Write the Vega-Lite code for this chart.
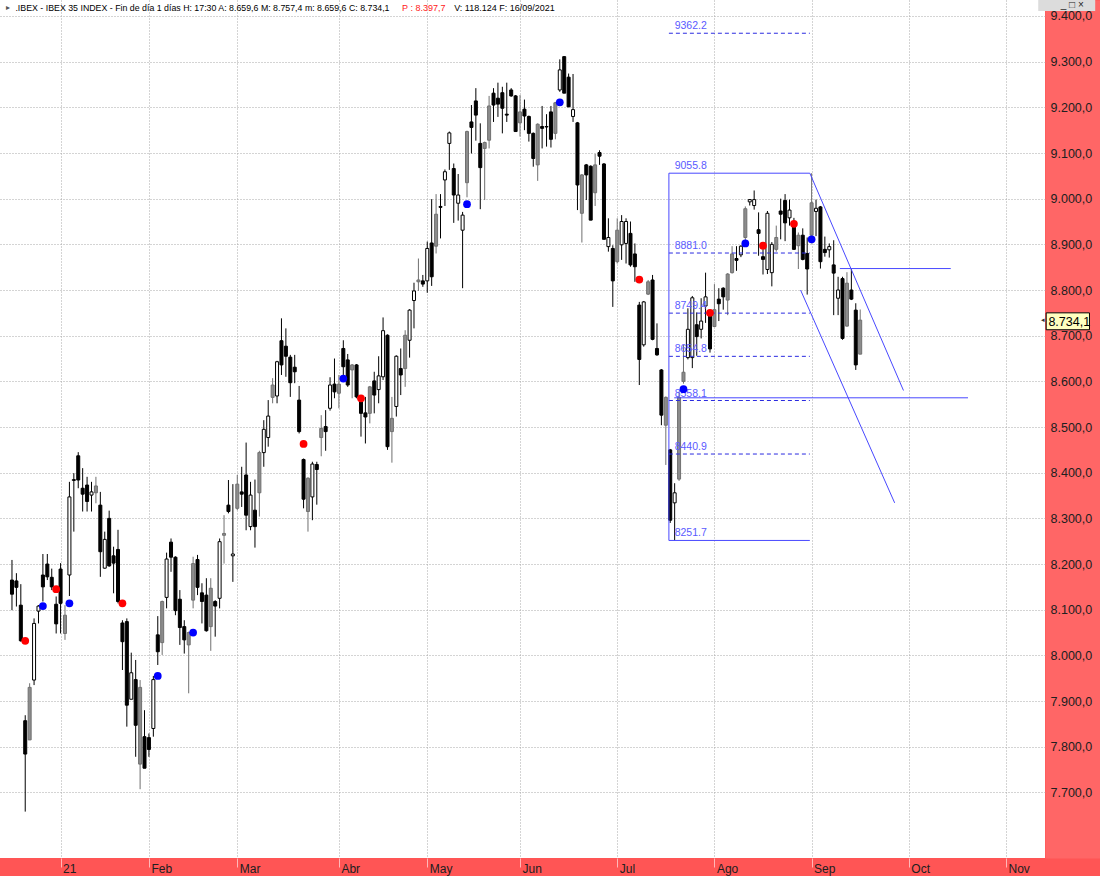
{
"$schema": "https://vega.github.io/schema/vega-lite/v6.json",
"width": 1045,
"height": 858,
"autosize": {"type": "none"},
"padding": {"left": 0, "top": 0, "right": 55, "bottom": 18},
"background": "#ff5555",
"config": {"view": {"stroke": null, "fill": "#ffffff"}, "font": "Liberation Sans"},
"resolve": {"axis": {"y": "independent"}},
"datasets": {
"candles": [
{"i":-11,"o":8165,"h":8209,"l":8099,"c":8134,"k":"b"},
{"i":-10,"o":8163,"h":8180,"l":8107,"c":8149,"k":"b"},
{"i":-9,"o":8110,"h":8156,"l":8030,"c":8032,"k":"b"},
{"i":-8,"o":7857,"h":7869,"l":7658,"c":7784,"k":"b"},
{"i":-7,"o":7815,"h":7939,"l":7815,"c":7930,"k":"g"},
{"i":-6,"o":7946,"h":8081,"l":7935,"c":8070,"k":"w"},
{"i":-5,"o":8097,"h":8110,"l":8070,"c":8108,"k":"w"},
{"i":-4,"o":8176,"h":8222,"l":8118,"c":8150,"k":"b"},
{"i":-3,"o":8200,"h":8222,"l":8165,"c":8172,"k":"b"},
{"i":-2,"o":8171,"h":8190,"l":8143,"c":8150,"k":"b"},
{"i":-1,"o":8112,"h":8129,"l":8048,"c":8069,"k":"b"},
{"i":0,"o":8189,"h":8202,"l":8048,"c":8114,"k":"b"},
{"i":1,"o":8048,"h":8110,"l":8034,"c":8088,"k":"g"},
{"i":2,"o":8176,"h":8380,"l":8130,"c":8347,"k":"w"},
{"i":3,"o":8383,"h":8399,"l":8271,"c":8385,"k":"w"},
{"i":4,"o":8437,"h":8445,"l":8366,"c":8384,"k":"b"},
{"i":5,"o":8366,"h":8410,"l":8315,"c":8353,"k":"b"},
{"i":6,"o":8373,"h":8391,"l":8315,"c":8337,"k":"b"},
{"i":7,"o":8351,"h":8380,"l":8315,"c":8358,"k":"w"},
{"i":8,"o":8356,"h":8391,"l":8333,"c":8371,"k":"g"},
{"i":9,"o":8329,"h":8358,"l":8172,"c":8227,"k":"b"},
{"i":10,"o":8191,"h":8271,"l":8190,"c":8254,"k":"w"},
{"i":11,"o":8300,"h":8317,"l":8194,"c":8196,"k":"b"},
{"i":12,"o":8218,"h":8238,"l":8136,"c":8202,"k":"b"},
{"i":13,"o":8232,"h":8275,"l":8114,"c":8118,"k":"b"},
{"i":14,"o":8071,"h":8077,"l":7968,"c":8030,"k":"b"},
{"i":15,"o":8074,"h":8081,"l":7844,"c":7891,"k":"b"},
{"i":16,"o":7904,"h":8006,"l":7904,"c":7962,"k":"w"},
{"i":17,"o":7947,"h":7990,"l":7778,"c":7847,"k":"b"},
{"i":18,"o":7762,"h":7946,"l":7707,"c":7930,"k":"g"},
{"i":19,"o":7822,"h":7880,"l":7753,"c":7753,"k":"b"},
{"i":20,"o":7820,"h":7829,"l":7778,"c":7794,"k":"b"},
{"i":21,"o":7840,"h":7955,"l":7822,"c":7947,"k":"w"},
{"i":22,"o":8045,"h":8086,"l":7979,"c":8008,"k":"b"},
{"i":23,"o":8028,"h":8120,"l":8001,"c":8118,"k":"g"},
{"i":24,"o":8127,"h":8225,"l":8103,"c":8211,"k":"w"},
{"i":25,"o":8248,"h":8256,"l":8183,"c":8215,"k":"b"},
{"i":26,"o":8215,"h":8217,"l":8088,"c":8098,"k":"b"},
{"i":27,"o":8123,"h":8143,"l":8023,"c":8061,"k":"b"},
{"i":28,"o":8063,"h":8077,"l":8004,"c":8034,"k":"b"},
{"i":29,"o":8023,"h":8052,"l":7917,"c":8050,"k":"g"},
{"i":30,"o":8121,"h":8216,"l":8103,"c":8201,"k":"g"},
{"i":31,"o":8210,"h":8220,"l":8132,"c":8149,"k":"b"},
{"i":32,"o":8137,"h":8158,"l":8070,"c":8118,"k":"b"},
{"i":33,"o":8132,"h":8169,"l":8052,"c":8054,"k":"b"},
{"i":34,"o":8063,"h":8169,"l":8010,"c":8147,"k":"g"},
{"i":35,"o":8118,"h":8121,"l":8041,"c":8108,"k":"b"},
{"i":36,"o":8125,"h":8256,"l":8103,"c":8249,"k":"w"},
{"i":37,"o":8263,"h":8307,"l":8201,"c":8267,"k":"g"},
{"i":38,"o":8329,"h":8384,"l":8311,"c":8315,"k":"b"},
{"i":39,"o":8218,"h":8375,"l":8161,"c":8222,"k":"w"},
{"i":40,"o":8322,"h":8395,"l":8318,"c":8375,"k":"g"},
{"i":41,"o":8358,"h":8413,"l":8325,"c":8353,"k":"b"},
{"i":42,"o":8395,"h":8466,"l":8274,"c":8307,"k":"b"},
{"i":43,"o":8282,"h":8380,"l":8274,"c":8351,"k":"w"},
{"i":44,"o":8318,"h":8385,"l":8236,"c":8282,"k":"b"},
{"i":45,"o":8356,"h":8448,"l":8304,"c":8444,"k":"g"},
{"i":46,"o":8444,"h":8515,"l":8413,"c":8495,"k":"w"},
{"i":47,"o":8477,"h":8559,"l":8457,"c":8524,"k":"w"},
{"i":48,"o":8565,"h":8607,"l":8552,"c":8592,"k":"g"},
{"i":49,"o":8568,"h":8645,"l":8552,"c":8643,"k":"w"},
{"i":50,"o":8689,"h":8738,"l":8614,"c":8636,"k":"b"},
{"i":51,"o":8677,"h":8716,"l":8610,"c":8655,"k":"b"},
{"i":52,"o":8653,"h":8658,"l":8566,"c":8597,"k":"b"},
{"i":53,"o":8631,"h":8658,"l":8596,"c":8621,"k":"b"},
{"i":54,"o":8559,"h":8590,"l":8486,"c":8490,"k":"b"},
{"i":55,"o":8429,"h":8431,"l":8322,"c":8342,"k":"b"},
{"i":56,"o":8315,"h":8390,"l":8271,"c":8388,"k":"g"},
{"i":57,"o":8347,"h":8424,"l":8296,"c":8419,"k":"w"},
{"i":58,"o":8418,"h":8424,"l":8330,"c":8407,"k":"b"},
{"i":59,"o":8477,"h":8526,"l":8436,"c":8497,"k":"g"},
{"i":60,"o":8501,"h":8537,"l":8448,"c":8490,"k":"b"},
{"i":61,"o":8541,"h":8609,"l":8536,"c":8592,"k":"w"},
{"i":62,"o":8594,"h":8650,"l":8563,"c":8577,"k":"b"},
{"i":63,"o":8574,"h":8614,"l":8541,"c":8594,"k":"g"},
{"i":64,"o":8672,"h":8690,"l":8614,"c":8632,"k":"b"},
{"i":65,"o":8647,"h":8660,"l":8588,"c":8592,"k":"b"},
{"i":66,"o":8625,"h":8638,"l":8563,"c":8636,"k":"g"},
{"i":67,"o":8636,"h":8638,"l":8563,"c":8566,"k":"b"},
{"i":68,"o":8555,"h":8563,"l":8479,"c":8530,"k":"b"},
{"i":69,"o":8531,"h":8566,"l":8464,"c":8522,"k":"b"},
{"i":70,"o":8530,"h":8590,"l":8508,"c":8588,"k":"g"},
{"i":71,"o":8601,"h":8621,"l":8530,"c":8570,"k":"b"},
{"i":72,"o":8582,"h":8655,"l":8552,"c":8612,"k":"w"},
{"i":73,"o":8610,"h":8740,"l":8603,"c":8711,"k":"w"},
{"i":74,"o":8701,"h":8703,"l":8450,"c":8457,"k":"b"},
{"i":75,"o":8490,"h":8566,"l":8422,"c":8519,"k":"g"},
{"i":76,"o":8545,"h":8657,"l":8523,"c":8655,"k":"w"},
{"i":77,"o":8628,"h":8672,"l":8570,"c":8614,"k":"b"},
{"i":78,"o":8628,"h":8712,"l":8588,"c":8701,"k":"g"},
{"i":79,"o":8690,"h":8758,"l":8652,"c":8756,"k":"w"},
{"i":80,"o":8777,"h":8816,"l":8716,"c":8798,"k":"w"},
{"i":81,"o":8818,"h":8869,"l":8798,"c":8822,"k":"g"},
{"i":82,"o":8820,"h":8833,"l":8807,"c":8813,"k":"b"},
{"i":83,"o":8820,"h":8906,"l":8794,"c":8891,"k":"w"},
{"i":84,"o":8903,"h":8999,"l":8809,"c":8829,"k":"b"},
{"i":85,"o":8896,"h":9010,"l":8880,"c":8966,"k":"g"},
{"i":86,"o":8983,"h":9010,"l":8913,"c":8981,"k":"b"},
{"i":87,"o":9041,"h":9064,"l":8984,"c":9059,"k":"w"},
{"i":88,"o":9121,"h":9147,"l":9063,"c":9144,"k":"w"},
{"i":89,"o":9066,"h":9077,"l":8947,"c":9008,"k":"b"},
{"i":90,"o":8990,"h":9054,"l":8952,"c":9008,"k":"w"},
{"i":91,"o":8931,"h":8971,"l":8804,"c":8964,"k":"w"},
{"i":92,"o":9035,"h":9149,"l":9003,"c":9147,"k":"g"},
{"i":93,"o":9168,"h":9205,"l":9099,"c":9156,"k":"b"},
{"i":94,"o":9214,"h":9242,"l":9127,"c":9183,"k":"b"},
{"i":95,"o":9121,"h":9165,"l":8977,"c":9068,"k":"b"},
{"i":96,"o":9110,"h":9125,"l":8997,"c":9123,"k":"g"},
{"i":97,"o":9128,"h":9225,"l":9110,"c":9203,"k":"g"},
{"i":98,"o":9231,"h":9242,"l":9168,"c":9205,"k":"b"},
{"i":99,"o":9220,"h":9254,"l":9179,"c":9207,"k":"b"},
{"i":100,"o":9232,"h":9245,"l":9143,"c":9198,"k":"b"},
{"i":101,"o":9185,"h":9254,"l":9168,"c":9183,"k":"b"},
{"i":102,"o":9238,"h":9242,"l":9223,"c":9225,"k":"b"},
{"i":103,"o":9225,"h":9227,"l":9147,"c":9147,"k":"b"},
{"i":104,"o":9166,"h":9227,"l":9136,"c":9190,"k":"g"},
{"i":105,"o":9196,"h":9217,"l":9150,"c":9181,"k":"b"},
{"i":106,"o":9180,"h":9182,"l":9125,"c":9143,"k":"b"},
{"i":107,"o":9143,"h":9145,"l":9070,"c":9088,"k":"b"},
{"i":108,"o":9074,"h":9165,"l":9039,"c":9163,"k":"g"},
{"i":109,"o":9158,"h":9203,"l":9110,"c":9154,"k":"b"},
{"i":110,"o":9158,"h":9185,"l":9114,"c":9157,"k":"b"},
{"i":111,"o":9190,"h":9203,"l":9112,"c":9130,"k":"b"},
{"i":112,"o":9143,"h":9212,"l":9130,"c":9210,"k":"g"},
{"i":113,"o":9238,"h":9305,"l":9234,"c":9282,"k":"w"},
{"i":114,"o":9311,"h":9312,"l":9231,"c":9231,"k":"b"},
{"i":115,"o":9266,"h":9274,"l":9201,"c":9201,"k":"b"},
{"i":116,"o":9180,"h":9273,"l":9168,"c":9195,"k":"w"},
{"i":117,"o":9166,"h":9168,"l":8975,"c":9030,"k":"b"},
{"i":118,"o":8968,"h":9054,"l":8904,"c":9052,"k":"g"},
{"i":119,"o":9074,"h":9076,"l":8997,"c":9052,"k":"b"},
{"i":120,"o":9071,"h":9073,"l":8953,"c":8953,"k":"b"},
{"i":121,"o":9013,"h":9098,"l":8984,"c":9074,"k":"g"},
{"i":122,"o":9101,"h":9106,"l":9074,"c":9093,"k":"b"},
{"i":123,"o":9076,"h":9078,"l":8911,"c":8911,"k":"b"},
{"i":124,"o":8895,"h":8957,"l":8884,"c":8915,"k":"w"},
{"i":125,"o":8891,"h":8898,"l":8763,"c":8820,"k":"b"},
{"i":126,"o":8862,"h":8957,"l":8858,"c":8931,"k":"g"},
{"i":127,"o":8899,"h":8964,"l":8866,"c":8950,"k":"w"},
{"i":128,"o":8902,"h":8957,"l":8858,"c":8950,"k":"w"},
{"i":129,"o":8924,"h":8950,"l":8851,"c":8855,"k":"b"},
{"i":130,"o":8879,"h":8902,"l":8818,"c":8851,"k":"b"},
{"i":131,"o":8767,"h":8774,"l":8592,"c":8648,"k":"b"},
{"i":132,"o":8680,"h":8776,"l":8676,"c":8774,"k":"w"},
{"i":133,"o":8791,"h":8822,"l":8789,"c":8818,"k":"g"},
{"i":134,"o":8822,"h":8833,"l":8690,"c":8692,"k":"b"},
{"i":135,"o":8672,"h":8727,"l":8656,"c":8658,"k":"b"},
{"i":136,"o":8625,"h":8627,"l":8504,"c":8526,"k":"b"},
{"i":137,"o":8504,"h":8567,"l":8417,"c":8565,"k":"g"},
{"i":138,"o":8450,"h":8452,"l":8290,"c":8296,"k":"b"},
{"i":139,"o":8334,"h":8377,"l":8252,"c":8356,"k":"w"},
{"i":140,"o":8386,"h":8576,"l":8382,"c":8565,"k":"g"},
{"i":141,"o":8600,"h":8680,"l":8595,"c":8620,"k":"g"},
{"i":142,"o":8652,"h":8760,"l":8648,"c":8714,"k":"w"},
{"i":143,"o":8652,"h":8787,"l":8629,"c":8783,"k":"w"},
{"i":144,"o":8724,"h":8751,"l":8656,"c":8698,"k":"b"},
{"i":145,"o":8714,"h":8782,"l":8694,"c":8732,"k":"w"},
{"i":146,"o":8765,"h":8838,"l":8728,"c":8785,"k":"w"},
{"i":147,"o":8745,"h":8751,"l":8663,"c":8671,"k":"b"},
{"i":148,"o":8720,"h":8813,"l":8719,"c":8757,"k":"g"},
{"i":149,"o":8780,"h":8804,"l":8732,"c":8770,"k":"b"},
{"i":150,"o":8804,"h":8806,"l":8757,"c":8785,"k":"b"},
{"i":151,"o":8778,"h":8837,"l":8745,"c":8835,"k":"g"},
{"i":152,"o":8838,"h":8896,"l":8836,"c":8879,"k":"g"},
{"i":153,"o":8869,"h":8896,"l":8842,"c":8865,"k":"b"},
{"i":154,"o":8877,"h":8898,"l":8872,"c":8896,"k":"w"},
{"i":155,"o":8915,"h":8983,"l":8902,"c":8978,"k":"g"},
{"i":156,"o":8993,"h":8999,"l":8985,"c":8998,"k":"w"},
{"i":157,"o":8985,"h":9018,"l":8976,"c":8998,"k":"w"},
{"i":158,"o":8932,"h":8970,"l":8875,"c":8924,"k":"b"},
{"i":159,"o":8873,"h":8890,"l":8834,"c":8867,"k":"b"},
{"i":160,"o":8845,"h":8973,"l":8835,"c":8968,"k":"w"},
{"i":161,"o":8838,"h":8905,"l":8808,"c":8900,"k":"w"},
{"i":162,"o":8889,"h":8941,"l":8884,"c":8915,"k":"g"},
{"i":163,"o":8973,"h":9000,"l":8911,"c":8966,"k":"b"},
{"i":164,"o":8996,"h":9010,"l":8907,"c":8947,"k":"b"},
{"i":165,"o":8958,"h":8998,"l":8941,"c":8975,"k":"w"},
{"i":166,"o":8941,"h":8958,"l":8888,"c":8889,"k":"b"},
{"i":167,"o":8897,"h":8926,"l":8846,"c":8920,"k":"g"},
{"i":168,"o":8920,"h":8935,"l":8865,"c":8867,"k":"b"},
{"i":169,"o":8880,"h":8915,"l":8790,"c":8846,"k":"b"},
{"i":170,"o":8920,"h":9055.8,"l":8902,"c":8991,"k":"g"},
{"i":171,"o":8972,"h":8998,"l":8918,"c":8979,"k":"w"},
{"i":172,"o":8982,"h":8984,"l":8847,"c":8862,"k":"b"},
{"i":173,"o":8889,"h":8917,"l":8873,"c":8882,"k":"b"},
{"i":174,"o":8888,"h":8902,"l":8871,"c":8895,"k":"w"},
{"i":175,"o":8855,"h":8909,"l":8745,"c":8837,"k":"b"},
{"i":176,"o":8782,"h":8829,"l":8745,"c":8800,"k":"w"},
{"i":177,"o":8825,"h":8829,"l":8691,"c":8694,"k":"b"},
{"i":178,"o":8721,"h":8839,"l":8720,"c":8815,"k":"g"},
{"i":179,"o":8800,"h":8846,"l":8778,"c":8780,"k":"b"},
{"i":180,"o":8756,"h":8771,"l":8625,"c":8636,"k":"b"},
{"i":181,"o":8659.6,"h":8757.4,"l":8659.6,"c":8734.1,"k":"g"}
],
"dots": [
{"i":-8,"p":8032,"col":"r"},{"i":-4,"p":8108,"col":"b"},{"i":-1,"p":8145,"col":"r"},{"i":2,"p":8114,"col":"b"},
{"i":14,"p":8114,"col":"r"},{"i":22,"p":7955,"col":"b"},{"i":30,"p":8050,"col":"b"},{"i":55,"p":8463,"col":"r"},
{"i":64,"p":8606,"col":"b"},{"i":68,"p":8563,"col":"r"},{"i":92,"p":8988,"col":"b"},{"i":113,"p":9211,"col":"b"},
{"i":131,"p":8823,"col":"r"},{"i":141,"p":8583,"col":"b"},{"i":147,"p":8750,"col":"r"},{"i":155,"p":8902,"col":"b"},
{"i":159,"p":8897,"col":"r"},{"i":166,"p":8945,"col":"r"},{"i":170,"p":8911,"col":"b"}
],
"lines": [
{"a":137.7,"b":137.7,"p1":8251.7,"p2":9055.8,"s":"solid"},
{"a":137.7,"b":169.6,"p1":9055.8,"p2":9055.8,"s":"solid"},
{"a":137.7,"b":169.6,"p1":8251.7,"p2":8251.7,"s":"solid"},
{"a":138.9,"b":205.4,"p1":8564,"p2":8564,"s":"solid"},
{"a":176.4,"b":201.5,"p1":8847,"p2":8847,"s":"solid"},
{"a":169.6,"b":190.8,"p1":9055.8,"p2":8580,"s":"solid"},
{"a":167.5,"b":188.8,"p1":8800,"p2":8334,"s":"solid"},
{"a":137.7,"b":169.6,"p1":9362.2,"p2":9362.2,"s":"dash"},
{"a":137.7,"b":169.6,"p1":8881.0,"p2":8881.0,"s":"dash"},
{"a":137.7,"b":169.6,"p1":8749.4,"p2":8749.4,"s":"dash"},
{"a":137.7,"b":169.6,"p1":8654.8,"p2":8654.8,"s":"dash"},
{"a":137.7,"b":169.6,"p1":8558.1,"p2":8558.1,"s":"dash"},
{"a":137.7,"b":169.6,"p1":8440.9,"p2":8440.9,"s":"dash"}
],
"fibtext": [
{"p":9362.2,"t":"9362.2"},{"p":9055.8,"t":"9055.8"},{"p":8881.0,"t":"8881.0"},{"p":8749.4,"t":"8749.4"},
{"p":8654.8,"t":"8654.8"},{"p":8558.1,"t":"8558.1"},{"p":8440.9,"t":"8440.9"},{"p":8251.7,"t":"8251.7"}
]
},
"layer": [
{
"data": {"name": "candles"},
"mark": {"type": "rule", "strokeWidth": 1},
"encoding": {
"x": {"field": "i", "type": "quantitative", "title": null, "scale": {"domain": [-12.58, 221.7], "nice": false, "zero": false},
"axis": {"orient": "bottom", "values": [0,20,40,63,83,104,126,148,170,192,214],
"labelExpr": "['21','Feb','Mar','Abr','May','Jun','Jul','Ago','Sep','Oct','Nov'][indexof([0,20,40,63,83,104,126,148,170,192,214], datum.value)]",
"grid": true, "gridColor": "#a8a8a8", "gridDash": [1,2], "gridWidth": 1,
"domain": false, "ticks": true, "tickColor": "#ffb8b8", "tickSize": 9, "tickWidth": 1,
"labelAlign": "left", "labelBaseline": "top", "labelOffset": 2, "labelPadding": -4,
"labelFontSize": 12, "labelColor": "#202020", "labelFlush": false, "labelOverlap": false,
"title": null, "zindex": 0}},
"y": {"field": "l", "type": "quantitative", "title": null, "scale": {"domain": [7556.4, 9435], "nice": false, "zero": false},
"axis": {"orient": "right", "values": [7700,7800,7900,8000,8100,8200,8300,8400,8500,8600,8700,8800,8900,9000,9100,9200,9300,9400],
"grid": true, "gridColor": "#a8a8a8", "gridDash": [1,2], "gridWidth": 1,
"domain": true, "domainColor": "#ff6666", "domainWidth": 55, "offset": 27.5,
"ticks": false, "labels": false, "title": null, "zindex": 0}},
"y2": {"field": "h"},
"stroke": {"field": "k", "type": "nominal", "scale": {"domain": ["b","w","g"], "range": ["#000000","#000000","#707070"]}, "legend": null}
}
},
{
"data": {"name": "candles"},
"mark": {"type": "bar", "size": 3, "strokeWidth": 1},
"encoding": {
"x": {"field": "i", "type": "quantitative", "title": null},
"y": {"field": "o", "type": "quantitative", "title": null,
"axis": {"orient": "right", "values": [7700,7800,7900,8000,8100,8200,8300,8400,8500,8600,8700,8800,8900,9000,9100,9200,9300,9400],
"labelExpr": "replace(replace(replace(format(datum.value, ',.1f'), ',', '#'), '.', ','), '#', '.')",
"grid": false, "domain": false, "ticks": false, "offset": 0,
"labelPadding": 5, "labelAlign": "left", "labelBaseline": "middle",
"labelFontSize": 12.5, "labelColor": "#202020", "labelOverlap": false, "labelFlush": false,
"title": null, "zindex": 1}},
"y2": {"field": "c"},
"fill": {"field": "k", "type": "nominal", "scale": {"domain": ["b","w","g"], "range": ["#000000","#ffffff","#8c8c8c"]}, "legend": null},
"stroke": {"field": "k", "type": "nominal", "legend": null}
}
},
{
"data": {"name": "lines"},
"transform": [{"filter": "datum.s == 'dash'"}],
"mark": {"type": "rule", "color": "#2a2ae0", "strokeWidth": 1, "strokeDash": [4,3]},
"encoding": {
"x": {"field": "a", "type": "quantitative", "title": null},
"x2": {"field": "b"},
"y": {"field": "p1", "type": "quantitative", "title": null, "axis": null},
"y2": {"field": "p2"}
}
},
{
"data": {"name": "lines"},
"transform": [{"filter": "datum.s == 'solid'"}],
"mark": {"type": "rule", "color": "#4848ff", "strokeWidth": 1},
"encoding": {
"x": {"field": "a", "type": "quantitative", "title": null},
"x2": {"field": "b"},
"y": {"field": "p1", "type": "quantitative", "title": null, "axis": null},
"y2": {"field": "p2"}
}
},
{
"data": {"name": "fibtext"},
"mark": {"type": "text", "align": "left", "baseline": "bottom", "dy": -2, "fontSize": 10.5, "color": "#5a5aff"},
"encoding": {
"x": {"datum": 139.0, "type": "quantitative"},
"y": {"field": "p", "type": "quantitative", "title": null, "axis": null},
"text": {"field": "t"}
}
},
{
"data": {"name": "dots"},
"transform": [{"filter": "datum.col == 'r'"}],
"mark": {"type": "circle", "size": 60, "color": "#ff0000", "opacity": 1},
"encoding": {
"x": {"field": "i", "type": "quantitative", "title": null},
"y": {"field": "p", "type": "quantitative", "title": null, "axis": null}
}
},
{
"data": {"name": "dots"},
"transform": [{"filter": "datum.col == 'b'"}],
"mark": {"type": "circle", "size": 60, "color": "#0000ff", "opacity": 1},
"encoding": {
"x": {"field": "i", "type": "quantitative", "title": null},
"y": {"field": "p", "type": "quantitative", "title": null, "axis": null}
}
},
{
"data": {"values": [{}]},
"mark": {"type": "rect", "fill": "#dcdcdc"},
"encoding": {
"x": {"datum": 221.3, "type": "quantitative"},
"x2": {"datum": 234.2},
"y": {"datum": 9435, "type": "quantitative", "axis": null},
"y2": {"datum": 9411}
}
},
{
"data": {"values": [{}]},
"mark": {"type": "text", "text": "_ □ ×", "align": "center", "baseline": "middle", "fontSize": 10, "color": "#222222"},
"encoding": {
"x": {"datum": 229.0, "type": "quantitative"},
"y": {"datum": 9424, "type": "quantitative", "axis": null}
}
},
{
"data": {"values": [{}]},
"mark": {"type": "rect", "fill": "#ffffc0", "stroke": "#000000", "strokeWidth": 1},
"encoding": {
"x": {"datum": 223.1, "type": "quantitative"},
"x2": {"datum": 232.9},
"y": {"datum": 8750, "type": "quantitative", "axis": null},
"y2": {"datum": 8713}
}
},
{
"data": {"values": [{}]},
"mark": {"type": "text", "text": "8.734,1", "align": "left", "baseline": "middle", "fontSize": 12.5, "color": "#000000"},
"encoding": {
"x": {"datum": 223.6, "type": "quantitative"},
"y": {"datum": 8731, "type": "quantitative", "axis": null}
}
},
{
"data": {"values": [{}]},
"mark": {"type": "text", "text": "◂", "align": "center", "baseline": "middle", "fontSize": 7, "color": "#333333"},
"encoding": {
"x": {"datum": 222.4, "type": "quantitative"},
"y": {"datum": 8734.1, "type": "quantitative", "axis": null}
}
},
{
"data": {"values": [{}]},
"mark": {"type": "text", "text": "▸", "align": "left", "baseline": "middle", "fontSize": 8, "color": "#555555"},
"encoding": {
"x": {"datum": -12.3, "type": "quantitative"},
"y": {"datum": 9416.5, "type": "quantitative", "axis": null}
}
},
{
"data": {"values": [{}]},
"mark": {"type": "text", "text": ".IBEX - IBEX 35 INDEX - Fin de día 1 días H: 17:30 A: 8.659,6 M: 8.757,4 m: 8.659,6 C: 8.734,1", "align": "left", "baseline": "middle", "fontSize": 8.8, "color": "#000000"},
"encoding": {
"x": {"datum": -10.22, "type": "quantitative"},
"y": {"datum": 9416.5, "type": "quantitative", "axis": null}
}
},
{
"data": {"values": [{}]},
"mark": {"type": "text", "text": "P : 8.397,7", "align": "left", "baseline": "middle", "fontSize": 9, "color": "#ff2020"},
"encoding": {
"x": {"datum": 77.3, "type": "quantitative"},
"y": {"datum": 9416.5, "type": "quantitative", "axis": null}
}
},
{
"data": {"values": [{}]},
"mark": {"type": "text", "text": "V: 118.124 F: 16/09/2021", "align": "left", "baseline": "middle", "fontSize": 9, "color": "#000000"},
"encoding": {
"x": {"datum": 89.1, "type": "quantitative"},
"y": {"datum": 9416.5, "type": "quantitative", "axis": null}
}
}
]
}
